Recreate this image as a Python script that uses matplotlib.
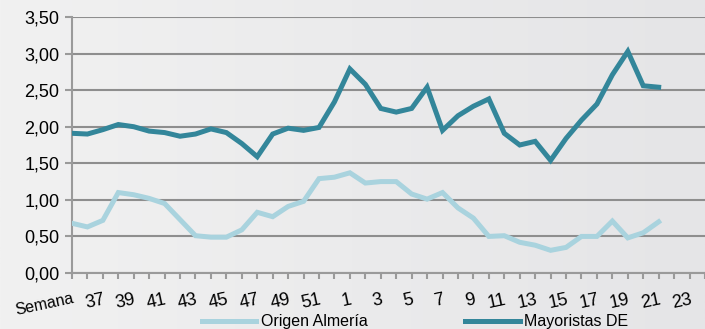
import numpy as np
import matplotlib
matplotlib.use("Agg")
import matplotlib.pyplot as plt
from matplotlib.lines import Line2D
from matplotlib.colors import LinearSegmentedColormap

# Data - week index 0 = "Semana" start, weeks 36..52, 1..21
week_labels = ["Semana", "37", "39", "41", "43", "45", "47", "49", "51",
               "1", "3", "5", "7", "9", "11", "13", "15", "17", "19", "21", "23"]
label_pos = [0] + list(range(2, 41, 2))

mayoristas_de = [1.91, 1.90, 1.96, 2.03, 2.00, 1.94, 1.92, 1.87, 1.90, 1.97,
                 1.92, 1.77, 1.59, 1.90, 1.98, 1.95, 1.99, 2.34, 2.79, 2.58,
                 2.25, 2.20, 2.25, 2.54, 1.95, 2.15, 2.28, 2.38, 1.91, 1.75,
                 1.80, 1.54, 1.84, 2.09, 2.31, 2.71, 3.03, 2.56, 2.54]
origen_almeria = [0.68, 0.63, 0.72, 1.10, 1.07, 1.02, 0.95, 0.73, 0.51, 0.49,
                  0.49, 0.59, 0.83, 0.77, 0.91, 0.98, 1.29, 1.31, 1.37, 1.23,
                  1.25, 1.25, 1.08, 1.01, 1.10, 0.89, 0.75, 0.50, 0.51, 0.42,
                  0.38, 0.31, 0.35, 0.50, 0.50, 0.71, 0.48, 0.55, 0.70]

DARK = "#33869a"
LIGHT = "#a9d3de"
GRID = "#8e8e8e"

plt.rcParams["font.family"] = ["Liberation Sans Narrow", "Liberation Sans", "DejaVu Sans"]
FS = 13

fig = plt.figure(figsize=(7.05, 3.29), dpi=100)

# background gradient (lighter on the left)
bg = fig.add_axes([0, 0, 1, 1], zorder=-10)
grad = np.linspace(0, 1, 256).reshape(1, -1)
cmap = LinearSegmentedColormap.from_list("bg", ["#f1f1f1", "#e5e5e7"])
bg.imshow(grad, aspect="auto", cmap=cmap, extent=[0, 1, 0, 1])
bg.set_axis_off()

ax = fig.add_axes([0.1021, 0.1702, 0.8979, 0.7781])
ax.patch.set_alpha(0)

x = np.arange(len(mayoristas_de))
ax.plot(x, origen_almeria, color=LIGHT, lw=3.6, solid_joinstyle="miter", zorder=3)
ax.plot(x, mayoristas_de, color=DARK, lw=3.6, solid_joinstyle="miter", zorder=4)

ax.set_xlim(0, 41)
ax.set_ylim(0, 3.5)

yt = np.arange(0, 3.51, 0.5)
ax.set_yticks(yt)
ax.set_yticklabels([f"{v:.2f}".replace(".", ",") for v in yt], fontsize=FS)
ax.grid(axis="y", color=GRID, lw=1.5, zorder=1)
ax.set_axisbelow(True)

ax.set_xticks(np.arange(0, 42), minor=True)
ax.set_xticks(label_pos)
ax.set_xticklabels(week_labels, fontsize=FS, rotation=12, ha="right",
                   rotation_mode="anchor")
ax.get_xticklabels()[0].set_fontsize(11.5)
ax.tick_params(axis="x", which="both", length=4, width=1.5, color="#9a9a9a",
               direction="out", pad=9)
ax.tick_params(axis="y", length=5, width=1.5, color="#9a9a9a", pad=4)

for s in ["top", "right"]:
    ax.spines[s].set_visible(False)
for s in ["left", "bottom"]:
    ax.spines[s].set_color("#9a9a9a")
    ax.spines[s].set_linewidth(1.5)

handles = [Line2D([], [], color=LIGHT, lw=3.6),
           Line2D([], [], color=DARK, lw=3.6)]
fig.legend(handles, ["Origen Almería", "Mayoristas DE"], loc="center",
           bbox_to_anchor=(0.589, 0.022), ncol=2, frameon=False, fontsize=11.5,
           handlelength=3.4, handletextpad=0.3, columnspacing=6.1,
           borderpad=0, borderaxespad=0)

fig.savefig("out.png", dpi=100)
